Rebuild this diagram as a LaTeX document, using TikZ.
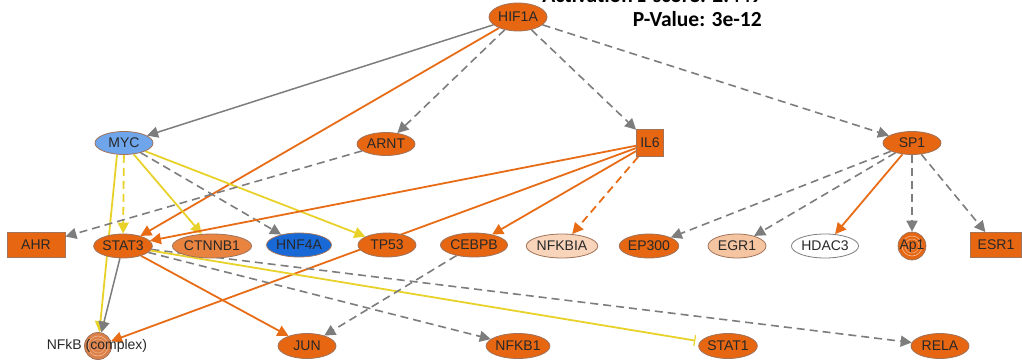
\documentclass[tikz,border=0pt]{standalone}
\usepackage{fontspec}
\setmainfont{Liberation Sans}
\newfontfamily\titlefont{Carlito}
\usetikzlibrary{shapes.geometric,arrows.meta}
\pgfdeclarelayer{bg}
\pgfsetlayers{bg,main}
\definecolor{ipaorange}{RGB}{230,102,18}
\definecolor{lightorange}{RGB}{233,132,64}
\definecolor{complexfill}{RGB}{218,128,72}
\definecolor{peach}{RGB}{248,212,186}
\definecolor{peachdark}{RGB}{245,196,160}
\definecolor{mycblue}{RGB}{110,165,235}
\definecolor{hnfblue}{RGB}{24,104,214}
\definecolor{nborder}{RGB}{160,115,90}
\definecolor{edgegray}{RGB}{125,125,125}
\definecolor{edgeorange}{RGB}{232,108,22}
\definecolor{edgeyellow}{RGB}{232,210,42}
\definecolor{txt}{RGB}{40,40,40}
\begin{document}
\begin{tikzpicture}[x=1pt,y=-1pt,
  gene/.style={ellipse, draw=nborder, line width=0.8pt, minimum width=58pt, minimum height=24pt, inner sep=0pt, font=\fontsize{14}{15}\selectfont, text=txt},
  genebox/.style={rectangle, draw=nborder, line width=0.8pt, minimum width=58pt, minimum height=25pt, inner sep=0pt, font=\fontsize{14}{15}\selectfont, text=txt, fill=ipaorange},
  cplx/.style={circle, draw=nborder, line width=0.8pt, minimum size=27pt, inner sep=0pt, font=\fontsize{14}{15}\selectfont, text=txt,
    path picture={\draw[white!55!ipaorange, line width=0.6pt] (path picture bounding box.center) circle (10pt);
                  \draw[white!45!ipaorange, line width=0.6pt] (path picture bounding box.center) circle (7pt);
                  \draw[white!35!ipaorange, line width=0.5pt] (path picture bounding box.center) circle (4pt);}},
  tip/.style={-{Triangle[length=11pt,width=11pt]}},
  gsolid/.style={tip, draw=edgegray, line width=1.5pt},
  gdash/.style={tip, draw=edgegray, line width=1.6pt, dash pattern=on 8pt off 5pt},
  osolid/.style={tip, draw=edgeorange, line width=1.8pt},
  odash/.style={tip, draw=edgeorange, line width=1.8pt, dash pattern=on 8pt off 5pt},
  ysolid/.style={tip, draw=edgeyellow, line width=1.8pt},
  ydash/.style={tip, draw=edgeyellow, line width=1.8pt, dash pattern=on 8pt off 5pt},
  ybar/.style={-{Bar[width=11pt,line width=1.2pt]}, draw=edgeyellow, line width=1.8pt, shorten >=5pt},
  title/.style={anchor=base east, inner sep=0pt, font=\titlefont\bfseries\fontsize{21.5}{23}\selectfont, text=black}
]
\useasboundingbox (0,0) rectangle (1022,361);

% title
\node[title] (zs) at (762,3) {Activation z-score: 2.449};
\node[title] (pv) at (762,27) {P-Value: 3e-12};

% top row
\node[gene, fill=ipaorange, minimum height=28pt] (hif) at (518,17) {HIF1A};
% second row
\node[gene, fill=mycblue, minimum height=23pt] (myc) at (124,143) {MYC};
\node[gene, fill=ipaorange, minimum height=23pt] (arnt) at (386,144) {ARNT};
\node[genebox, minimum width=27pt, minimum height=27pt] (il6) at (650,143) {IL6};
\node[gene, fill=ipaorange, minimum height=23pt] (sp1) at (912,143) {SP1};
% third row
\node[genebox] (ahr) at (36,245) {AHR};
\node[gene, fill=ipaorange] (stat3) at (123,246) {STAT3};
\node[gene, fill=lightorange] (ctnnb1) at (212,246) {CTNNB1};
\node[gene, fill=hnfblue] (hnf4a) at (299,245) {HNF4A};
\node[gene, fill=ipaorange] (tp53) at (387,245) {TP53};
\node[gene, fill=ipaorange] (cebpb) at (474,245) {CEBPB};
\node[gene, fill=peach] (nfkbia) at (562,246) {NFKBIA};
\node[gene, fill=ipaorange] (ep300) at (649,246) {EP300};
\node[gene, fill=peachdark] (egr1) at (737,246) {EGR1};
\node[gene, fill=white, draw=edgegray] (hdac3) at (825,246) {HDAC3};
\node[cplx, fill=ipaorange] (ap1) at (912,246) {Ap1};
\node[genebox, minimum width=51pt] (esr1) at (996,245) {ESR1};
% bottom row
\node[cplx, fill=complexfill] (nfkb) at (98,346) {};
\node[inner sep=0pt, font=\fontsize{14}{15}\selectfont, text=txt] (nfkbl) at (97,346) {NFkB (complex)};
\node[gene, fill=ipaorange, minimum height=25pt] (jun) at (307,346) {JUN};
\node[gene, fill=ipaorange, minimum height=25pt] (nfkb1) at (518,346) {NFKB1};
\node[gene, fill=ipaorange, minimum height=25pt] (stat1) at (728,346) {STAT1};
\node[gene, fill=ipaorange, minimum height=25pt] (rela) at (940,346) {RELA};

\begin{pgfonlayer}{bg}
\draw[gsolid] (hif) -- (myc);
\draw[osolid] (hif) -- (stat3);
\draw[gdash] (hif) -- (arnt);
\draw[gdash] (hif) -- (il6);
\draw[gdash] (hif) -- (sp1);
\draw[ysolid] ([xshift=-7pt]myc.south) -- (nfkb);
\draw[ydash] (myc) -- (stat3);
\draw[ysolid] (myc) -- (ctnnb1);
\draw[ysolid] (myc) -- (tp53);
\draw[gdash] (myc) -- (hnf4a);
\draw[gdash] (arnt) -- (ahr);
\draw[osolid] (il6) -- (stat3);
\draw[osolid] (il6) -- (nfkb);
\draw[osolid] (il6) -- (cebpb);
\draw[odash] (il6) -- (nfkbia);
\draw[osolid] (stat3) -- (jun);
\draw[gsolid] (stat3) -- (nfkb);
\draw[gdash] (stat3) -- (nfkb1);
\draw[gdash] (stat3) -- (rela);
\draw[ybar] (stat3) -- (stat1);
\draw[gdash] (cebpb) -- (jun);
\draw[gdash] (sp1) -- (ep300);
\draw[gdash] (sp1) -- (egr1);
\draw[osolid] (sp1) -- (hdac3);
\draw[gdash] (sp1) -- (ap1);
\draw[gdash] (sp1) -- (esr1);
\end{pgfonlayer}
\end{tikzpicture}
\end{document}
